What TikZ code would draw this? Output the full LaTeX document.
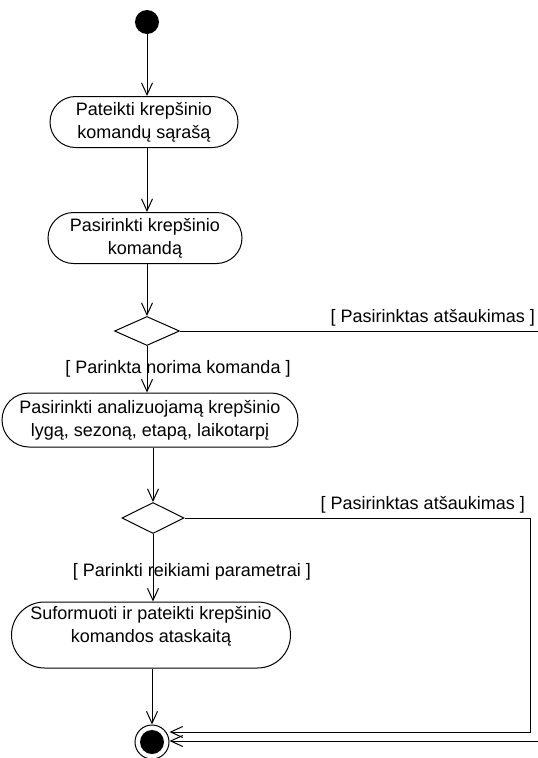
\documentclass[tikz,border=0pt]{standalone}
\usepackage{fontspec}
\setmainfont{Liberation Sans}
\usetikzlibrary{arrows.meta,shapes.misc,shapes.geometric}

\tikzset{
  flow/.style={line width=1pt, -{Straight Barb[length=12pt,width=11pt,line width=1pt]}},
  plain/.style={line width=1pt},
  activity/.style={rounded rectangle, draw, line width=1pt, align=center,
    inner sep=0pt, font=\fontsize{18}{23}\selectfont},
  choice/.style={diamond, draw, line width=1pt, inner sep=0pt, aspect=2.2},
  guard/.style={font=\fontsize{18}{22}\selectfont, inner sep=0pt},
  actlabel/.style={align=center, inner sep=0pt, font=\fontsize{18}{23}\selectfont}
}

\begin{document}
\begin{tikzpicture}[x=1pt, y=-1pt]
  \useasboundingbox[fill=white] (0,0) rectangle (538,758);

  % initial and final states
  \node (start) [circle, fill=black, minimum size=24pt, inner sep=0pt] at (147,22) {};
  \node (end) [circle, draw, line width=1pt, minimum size=34pt, inner sep=0pt] at (152,742) {};
  \node (endin) [circle, fill=black, minimum size=24pt, inner sep=0pt] at (end) {};

  % activities
  \node (a1) [activity, minimum width=188pt, minimum height=51pt] at (144,122)
    {Pateikti krepšinio\\komandų sąrašą};
  \node (a2) [activity, minimum width=194pt, minimum height=51pt] at (145,238)
    {Pasirinkti krepšinio\\komandą};
  \node (a3) [activity, minimum width=296pt, minimum height=54pt] at (150,420)
    {Pasirinkti analizuojamą krepšinio\\lygą, sezoną, etapą, laikotarpį};
  \node (a4) [activity, minimum width=279pt, minimum height=66pt] at (151,635) {};
  \node (a4t) [actlabel] at (151,626) {Suformuoti ir pateikti krepšinio\\komandos ataskaitą};

  % decisions
  \node (d1) [choice, minimum width=65pt, minimum height=29pt] at (147,331) {};
  \node (d2) [choice, minimum width=62pt, minimum height=31pt] at (153,518) {};

  % corner points of the cancel branches
  \coordinate (c1) at (541,331);
  \coordinate (c2) at (541,741);
  \coordinate (c3) at (530,518);
  \coordinate (c4) at (530,732);

  % main flow
  \draw[flow] (start) -- (start |- a1.north);
  \draw[flow] (a1.south -| start) -- (a2.north -| start);
  \draw[flow] (a2.south -| start) -- (d1.north);
  \draw[flow] (d1.south) -- (a3.north -| d1);
  \draw[flow] (a3.south -| d2) -- (d2.north);
  \draw[flow] (d2.south) -- (a4.north -| d2);
  \draw[flow] (a4.south -| end) -- (end.north);

  % cancel branches
  \draw[flow] (d1.east) -- (c1) -- (c2) -- (end.east |- c2);
  \draw[flow] (d2.east) -- (c3) -- (c4) -- ([yshift=10pt]end.east);

  % guards
  \node (g1) [guard, anchor=base east] at (535,322) {[ Pasirinktas atšaukimas ]};
  \node (g2) [guard, anchor=base] at (178,373) {[ Parinkta norima komanda ]};
  \node (g3) [guard, anchor=base east] at (525,509) {[ Pasirinktas atšaukimas ]};
  \node (g4) [guard, anchor=base] at (192,576) {[ Parinkti reikiami parametrai ]};
\end{tikzpicture}
\end{document}
